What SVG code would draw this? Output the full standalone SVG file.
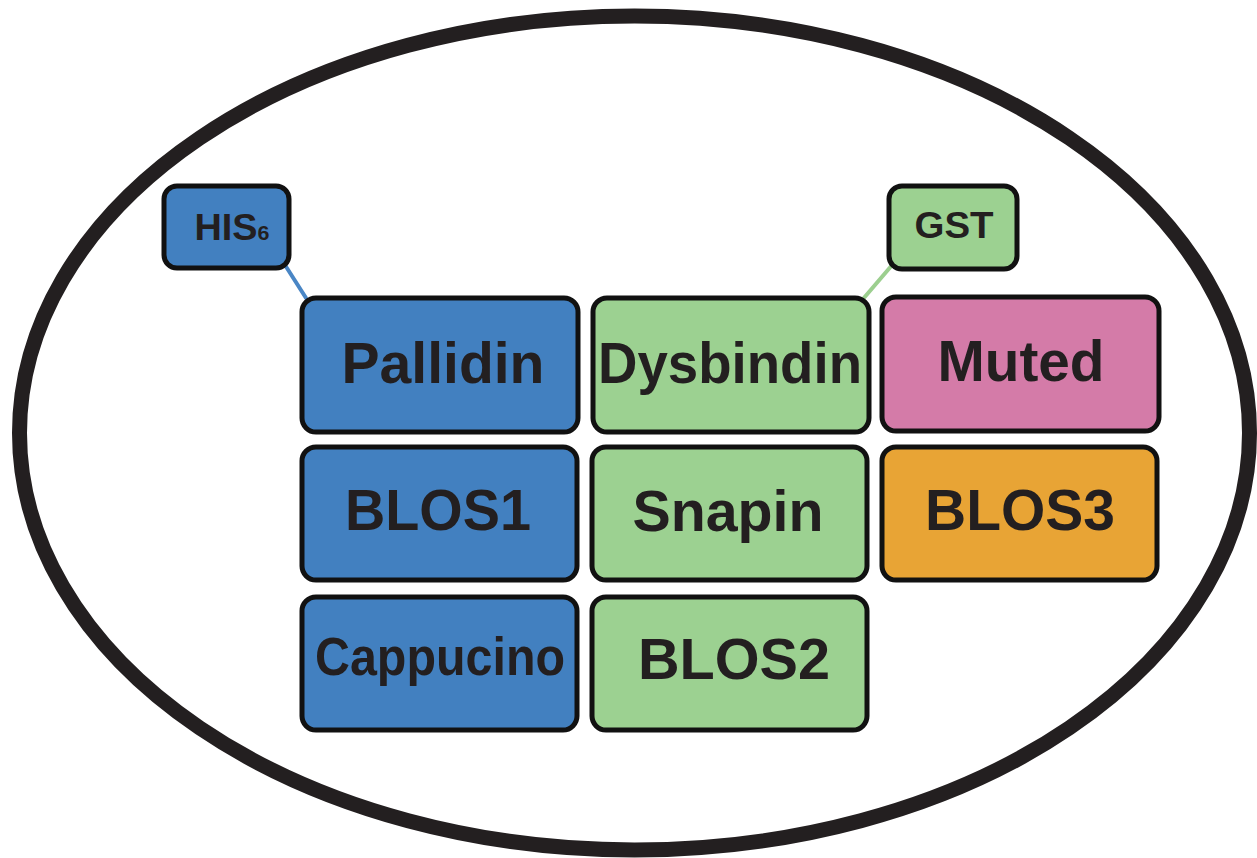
<svg xmlns="http://www.w3.org/2000/svg" width="1257" height="858" viewBox="0 0 1257 858">
<style>
.box{stroke:#111;stroke-width:5}
.blue{fill:#4280c0}
.green{fill:#9cd191}
.pink{fill:#d47ba8}
.orange{fill:#e8a435}
text{font-family:"Liberation Sans",Arial,sans-serif;font-weight:bold;fill:#231f20;text-anchor:middle}
.big{font-size:58px}
.tag{font-size:37px}
</style>
<rect width="1257" height="858" fill="#fff"/>
<ellipse id="cell" cx="634.5" cy="433" rx="615" ry="417" fill="none" stroke="#231f20" stroke-width="15"/>
<g id="connectors" stroke-width="4" stroke-linecap="round">
<line x1="285" y1="265" x2="306" y2="298" stroke="#4a86c5"/>
<line x1="893" y1="264" x2="863" y2="299" stroke="#9ccf8f"/>
</g>
<g id="his6">
<rect class="box blue" x="164" y="186" width="125" height="82" rx="13"/>
<text class="tag" x="232" y="240" textLength="75" lengthAdjust="spacingAndGlyphs"><tspan>HIS</tspan><tspan font-size="21">6</tspan></text>
</g>
<g id="gst">
<rect class="box green" x="889" y="186" width="128" height="83" rx="13"/>
<text class="tag" x="954" y="238" textLength="79" lengthAdjust="spacingAndGlyphs">GST</text>
</g>
<g id="pallidin">
<rect class="box blue" x="302" y="298" width="276" height="134" rx="14"/>
<text class="big" x="443" y="383" textLength="203" lengthAdjust="spacingAndGlyphs">Pallidin</text>
</g>
<g id="dysbindin">
<rect class="box green" x="593" y="298" width="276" height="134" rx="14"/>
<text class="big" x="730" y="383" textLength="264" lengthAdjust="spacingAndGlyphs">Dysbindin</text>
</g>
<g id="muted">
<rect class="box pink" x="882" y="297" width="277" height="134" rx="14"/>
<text class="big" x="1021" y="381" textLength="167" lengthAdjust="spacingAndGlyphs">Muted</text>
</g>
<g id="blos1">
<rect class="box blue" x="302" y="447" width="275" height="133" rx="14"/>
<text class="big" x="438" y="530" textLength="186" lengthAdjust="spacingAndGlyphs">BLOS1</text>
</g>
<g id="snapin">
<rect class="box green" x="592" y="447" width="275" height="133" rx="14"/>
<text class="big" x="728" y="531" textLength="191" lengthAdjust="spacingAndGlyphs">Snapin</text>
</g>
<g id="blos3">
<rect class="box orange" x="882" y="447" width="275" height="133" rx="14"/>
<text class="big" x="1020" y="530" textLength="190" lengthAdjust="spacingAndGlyphs">BLOS3</text>
</g>
<g id="cappucino">
<rect class="box blue" x="302" y="597" width="275" height="133" rx="14"/>
<text x="440" y="675" font-size="53" textLength="250" lengthAdjust="spacingAndGlyphs">Cappucino</text>
</g>
<g id="blos2">
<rect class="box green" x="592" y="597" width="275" height="133" rx="14"/>
<text class="big" x="734" y="679" textLength="192" lengthAdjust="spacingAndGlyphs">BLOS2</text>
</g>
</svg>
